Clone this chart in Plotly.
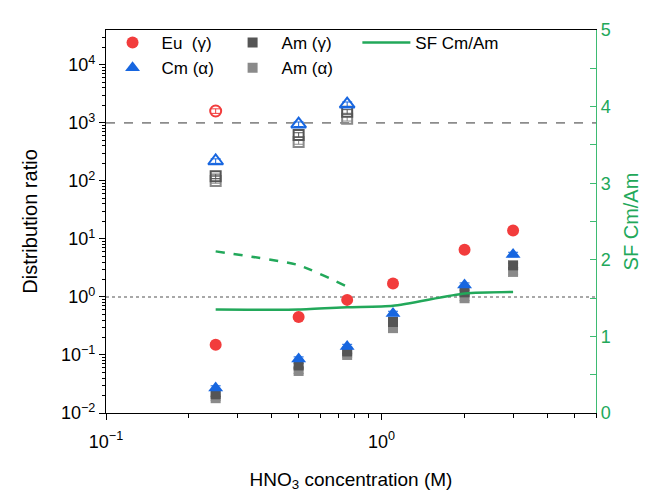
import plotly.graph_objects as go

# ---------------- data ----------------
conc = [0.25, 0.5, 0.75, 1.1, 2.0, 3.0]
eu_g = [0.15, 0.45, 0.89, 1.7, 6.5, 14]
cm_a = [0.027, 0.085, 0.14, 0.52, 1.6, 5.4]
am_g = [0.021, 0.066, 0.115, 0.37, 1.2, 3.5]
am_a = [0.018, 0.053, 0.10, 0.29, 0.95, 2.7]
sf_cm_am = [1.35, 1.35, 1.38, 1.40, 1.56, 1.58]

conc_h = [0.25, 0.5, 0.75]
eu_g_h = [1600, None, None]
cm_a_h = [220, 950, 2100]
am_g_h = [120, 620, 1550]
am_a_h = [100, 470, 1180]
sf_cm_am_h = [2.11, 1.93, 1.65]

x_range = [0.1, 6.0]
ref_dashed = [1000, 1000]
ref_dotted = [1, 1]

y_tickvals = [0.01, 0.1, 1, 10, 100, 1000, 10000]
y_ticktext = ["10<sup>−2</sup>", "10<sup>−1</sup>", "10<sup>0</sup>", "10<sup>1</sup>",
              "10<sup>2</sup>", "10<sup>3</sup>", "10<sup>4</sup>"]
x_tickvals = [0.1, 1]
x_ticktext = ["10<sup>−1</sup>", "10<sup>0</sup>"]

# ---------------- style ----------------
RED = "#f23c3c"
BLUE = "#1766e0"
DGRAY = "#555555"
LGRAY = "#8a8a8a"
GREEN = "#22a85a"
GREEN_AX = "#3dbb72"
FONT = "Liberation Sans, Arial, sans-serif"

fig = go.Figure()

# reference lines
fig.add_trace(go.Scatter(x=x_range, y=ref_dashed, mode="lines", showlegend=False,
                         line=dict(color="#8c8c8c", width=1.6, dash="dash"), hoverinfo="skip"))
fig.add_trace(go.Scatter(x=x_range, y=ref_dotted, mode="lines", showlegend=False,
                         line=dict(color="#8c8c8c", width=1.6, dash="dot"), hoverinfo="skip"))

def err(c):
    return dict(type="percent", value=9, thickness=1, width=5, color=c)

# hollow (no legend)
fig.add_trace(go.Scatter(x=conc_h, y=am_a_h, mode="markers", showlegend=False,
                         marker=dict(symbol="square-open", size=10, color=LGRAY, line=dict(width=2)),
                         error_y=err(LGRAY)))
fig.add_trace(go.Scatter(x=conc_h, y=am_g_h, mode="markers", showlegend=False,
                         marker=dict(symbol="square-open", size=10, color=DGRAY, line=dict(width=2)),
                         error_y=err(DGRAY)))
fig.add_trace(go.Scatter(x=conc_h, y=cm_a_h, mode="markers", showlegend=False,
                         marker=dict(symbol="triangle-up-open", size=13, color=BLUE, line=dict(width=2)),
                         error_y=err(BLUE)))
fig.add_trace(go.Scatter(x=conc_h, y=eu_g_h, mode="markers", showlegend=False,
                         marker=dict(symbol="circle-open", size=11, color=RED, line=dict(width=2)),
                         error_y=err(RED)))

# filled
fig.add_trace(go.Scatter(x=conc, y=am_a, mode="markers", name="Am (α)", legend="legend2",
                         marker=dict(symbol="square", size=10, color=LGRAY), error_y=err(LGRAY)))
fig.add_trace(go.Scatter(x=conc, y=am_g, mode="markers", name="Am (γ)", legend="legend2",
                         marker=dict(symbol="square", size=10, color=DGRAY), error_y=err(DGRAY)))
fig.add_trace(go.Scatter(x=conc, y=cm_a, mode="markers", name="Cm (α)", legend="legend",
                         marker=dict(symbol="triangle-up", size=13, color=BLUE), error_y=err(BLUE)))
fig.add_trace(go.Scatter(x=conc, y=eu_g, mode="markers", name="Eu  (γ)", legend="legend",
                         marker=dict(symbol="circle", size=12, color=RED), error_y=err(RED)))

# SF lines (right axis)
fig.add_trace(go.Scatter(x=conc, y=sf_cm_am, mode="lines", name="SF Cm/Am", yaxis="y2",
                         legend="legend3", line=dict(color=GREEN, width=2.5, shape="spline", smoothing=0.6)))
fig.add_trace(go.Scatter(x=conc_h, y=sf_cm_am_h, mode="lines", showlegend=False, yaxis="y2",
                         line=dict(color=GREEN, width=2.5, dash="dash", shape="spline", smoothing=0.5)))

leg_common = dict(bgcolor="rgba(0,0,0,0)", font=dict(family=FONT, size=17, color="#000"),
                  orientation="v", yanchor="top", xanchor="left", tracegroupgap=0,
                  itemwidth=48)

fig.update_layout(
    width=651, height=494,
    margin=dict(l=98, r=63, t=12, b=89),
    paper_bgcolor="white", plot_bgcolor="white",
    font=dict(family=FONT, size=18, color="#000"),
    xaxis=dict(type="log", range=[-1, 0.778], tickvals=x_tickvals, ticktext=x_ticktext,
               ticks="outside", ticklen=6, tickwidth=1.2, tickcolor="#000",
               showline=True, linecolor="#000", linewidth=1.2, mirror=True,
               showgrid=False, zeroline=False, ticklabelstandoff=6,
               minor=dict(ticks="outside", ticklen=4, tickcolor="#000", showgrid=False, dtick="D1"),
               title=dict(text="HNO<sub>3</sub> concentration (M)", font=dict(size=19), standoff=21),
               tickfont=dict(size=18)),
    yaxis=dict(type="log", range=[-2, 4.6], tickvals=y_tickvals, ticktext=y_ticktext,
               ticks="outside", ticklen=6, tickwidth=1.2, tickcolor="#000",
               showline=True, linecolor="#000", linewidth=1.2, mirror=False,
               showgrid=False, zeroline=False,
               minor=dict(ticks="outside", ticklen=3, tickcolor="#000", showgrid=False, dtick="D1"),
               title=dict(text="Distribution ratio", font=dict(size=20), standoff=17),
               tickfont=dict(size=18)),
    yaxis2=dict(overlaying="y", side="right", range=[0, 5], dtick=1,
                ticks="inside", ticklen=6, tickwidth=1.2, tickcolor=GREEN_AX,
                showline=True, linecolor=GREEN_AX, linewidth=1.2,
                showgrid=False, zeroline=False,
                minor=dict(ticks="inside", ticklen=6, tickcolor=GREEN_AX, dtick=0.5),
                tickfont=dict(size=18, color=GREEN),
                title=dict(text="SF Cm/Am", font=dict(size=20, color=GREEN), standoff=14)),
    legend=dict(x=-0.005, y=1.013, traceorder="reversed", **leg_common),
    legend2=dict(x=0.24, y=1.013, traceorder="reversed", **leg_common),
    legend3=dict(x=0.513, y=1.013, **leg_common),
)

fig.write_html("out.html")
